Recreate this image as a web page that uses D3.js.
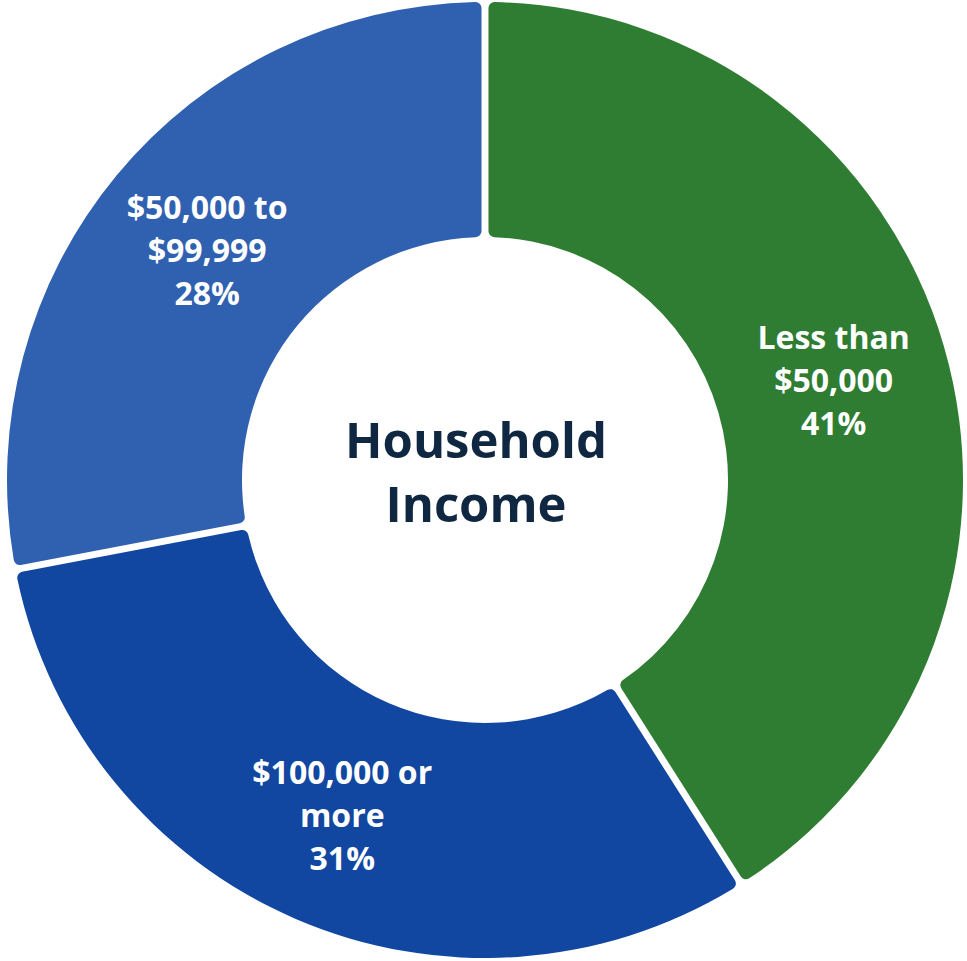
<!DOCTYPE html>
<html><head><meta charset="utf-8">
<script src="https://cdn.jsdelivr.net/npm/d3@7"></script>
<style>html,body{margin:0;padding:0;background:#fff;}</style>
</head><body>
<svg id="c" width="967" height="961"></svg>
<script>
const categories = ["Less than $50,000", "$100,000 or more", "$50,000 to $99,999"];
const values = [41, 31, 28];
const labelLines = [["Less than", "$50,000", "41%"], ["$100,000 or", "more", "31%"], ["$50,000 to", "$99,999", "28%"]];
const colors = ["#2e7d33", "#1147a0", "#3061b0"];
const title = ["Household", "Income"];

const svg = d3.select("#c");
const cx = 485, cy = 480, R = 478, r = 243;
const g = svg.append("g").attr("transform", `translate(${cx},${cy})`);
const pie = d3.pie().sort(null).value(d => d)(values);
const arc = d3.arc().innerRadius(r).outerRadius(R).cornerRadius(6).padAngle(0.013);
g.selectAll("path").data(pie).join("path")
  .attr("d", arc).attr("fill", (d, i) => colors[i]);

const labelArc = d3.arc().innerRadius(362).outerRadius(362);
const offs = [[1, 2], [1, 4], [1, 2]];
pie.forEach((d, i) => {
  const [x, y] = labelArc.centroid(d);
  const t = g.append("text").attr("text-anchor", "middle")
    .attr("font-family", "'Open Sans', sans-serif").attr("font-weight", 700)
    .attr("font-size", 32).attr("fill", "#fff");
  labelLines[i].forEach((s, k) => {
    t.append("tspan").attr("x", x + offs[i][0]).attr("y", y + offs[i][1] + (k - 1) * 43 + 11).text(s);
  });
});
const tt = g.append("text").attr("text-anchor", "middle")
  .attr("font-family", "'Open Sans', sans-serif").attr("font-weight", 700)
  .attr("font-size", 49).attr("fill", "#0f2740");
title.forEach((s, k) => tt.append("tspan").attr("x", -9).attr("y", -22 + k * 64).text(s));
</script>
</body></html>
